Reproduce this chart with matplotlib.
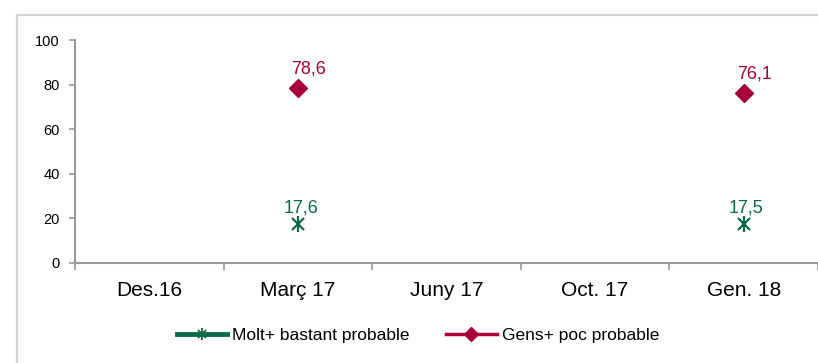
import matplotlib
matplotlib.use("Agg")
import matplotlib.pyplot as plt
from matplotlib.lines import Line2D
from matplotlib.patches import Rectangle
from matplotlib.legend_handler import HandlerTuple
import numpy as np

plt.rcParams['font.family'] = ['Liberation Sans', 'DejaVu Sans']

categories = ["Des.16", "Març 17", "Juny 17", "Oct. 17", "Gen. 18"]
molt_bastant = [None, 17.6, None, None, 17.5]
gens_poc = [None, 78.6, None, None, 76.1]
label_molt = "Molt+ bastant probable"
label_gens = "Gens+ poc probable"

GREEN = "#0b6b46"
RED = "#a8003b"
SPINE = "#9a9a9a"

fig = plt.figure(figsize=(8.18, 3.63), dpi=100)
# light outer frame, open towards the right and bottom edges
fig.add_artist(Line2D([17 / 818, 17 / 818], [0, 1 - 15 / 363],
                      transform=fig.transFigure, color="#d4d4d4", lw=1.6))
fig.add_artist(Line2D([17 / 818, 1], [1 - 15 / 363, 1 - 15 / 363],
                      transform=fig.transFigure, color="#d4d4d4", lw=1.6))

ax = fig.add_axes([75 / 818, 1 - 263 / 363, 743 / 818, (263 - 40) / 363])

x = np.arange(len(categories))


def valid(vals):
    xs = [i for i, v in enumerate(vals) if v is not None]
    ys = [v for v in vals if v is not None]
    return xs, ys


gx, gy = valid(molt_bastant)
rx, ry = valid(gens_poc)

ax.plot(gx, gy, linestyle="none", marker="x", markersize=9, mew=1.6, color=GREEN)
ax.plot(gx, gy, linestyle="none", marker="|", markersize=12, mew=1.6, color=GREEN)
ax.plot(rx, ry, linestyle="none", marker="D", markersize=9, color=RED)

for xi, yi in zip(gx, gy):
    ax.annotate(f"{yi:.1f}".replace(".", ","), (xi, yi), xytext=(2, 5.5),
                textcoords="offset points", ha="center", va="bottom",
                color=GREEN, fontsize=13)
for xi, yi in zip(rx, ry):
    ax.annotate(f"{yi:.1f}".replace(".", ","), (xi, yi), xytext=(8, 7.5),
                textcoords="offset points", ha="center", va="bottom",
                color=RED, fontsize=13)

ax.set_xlim(-0.5, len(categories) - 0.5)
ax.set_ylim(0, 100)
ax.set_yticks(range(0, 101, 20))
ax.set_xticks(x)
ax.set_xticklabels(categories, fontsize=15)
ax.set_xticks(np.arange(-0.5, len(categories), 1.0), minor=True)
ax.tick_params(axis="x", which="major", length=0, pad=13)
ax.tick_params(axis="x", which="minor", length=5, width=1.2, color=SPINE)
ax.tick_params(axis="y", length=4, width=1.2, color=SPINE, labelsize=10.5, pad=7)

for s in ["top", "right"]:
    ax.spines[s].set_visible(False)
for s in ["left", "bottom"]:
    ax.spines[s].set_color(SPINE)
    ax.spines[s].set_linewidth(1.5)

h_green = (Line2D([], [], color=GREEN, lw=3.5, marker="x", markersize=6, mew=1.3),
           Line2D([], [], color=GREEN, lw=0, marker="|", markersize=8, mew=1.3))
h_red = Line2D([], [], color=RED, lw=2.5, marker="D", markersize=7)
fig.legend([h_green, h_red], [label_molt, label_gens],
           handler_map={tuple: HandlerTuple(ndivide=1)},
           loc="center", bbox_to_anchor=(418 / 818, 1 - 335 / 363), ncol=2,
           frameon=False, fontsize=12.5, handlelength=2.9, handletextpad=0.3,
           columnspacing=2.1)

fig.savefig("out.png", dpi=100)
